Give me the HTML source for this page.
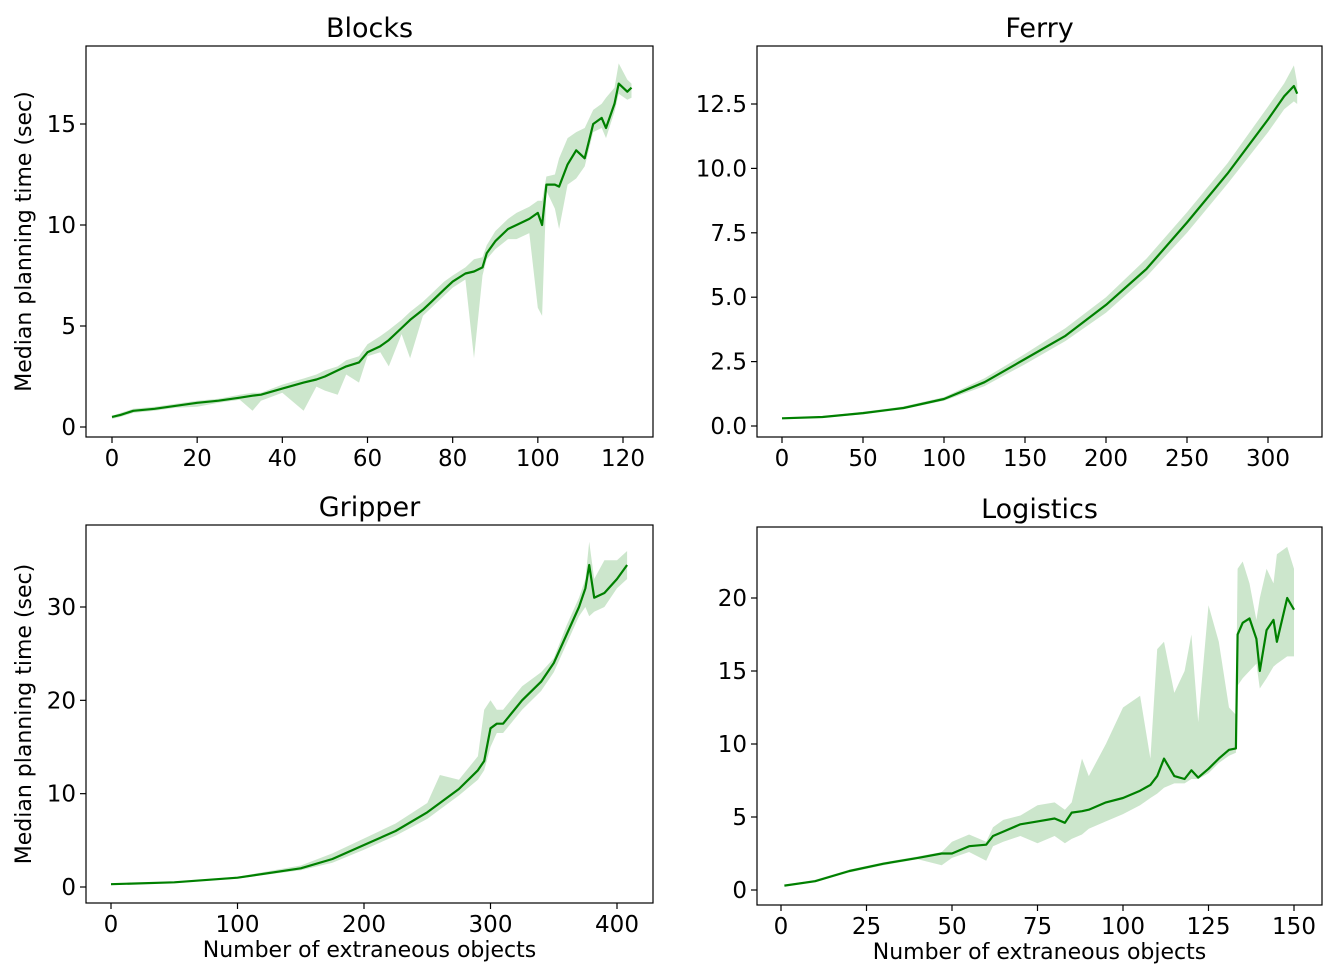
<!DOCTYPE html>
<html><head><meta charset="utf-8">
<style>
body{margin:0;background:#fff;width:1332px;height:972px;overflow:hidden}
svg text{font-family:"DejaVu Sans","Liberation Sans",sans-serif;fill:#000}
</style></head>
<body>
<svg id="fig" width="1332" height="972" viewBox="0 0 1332 972" xmlns="http://www.w3.org/2000/svg"></svg>
<script>
// Blocks
const blocksX=[0,2,5,10,15,20,25,30,33,35,40,45,48,50,53,55,58,60,63,65,68,70,73,75,78,80,83,85,87,88,90,93,95,98,100,101,102,104,105,107,109,111,113,115,116,118,119,121,122];
const blocksMed=[0.5,0.6,0.8,0.9,1.05,1.2,1.3,1.45,1.55,1.6,1.9,2.2,2.35,2.5,2.8,3.0,3.2,3.7,4.0,4.3,4.9,5.3,5.8,6.2,6.8,7.2,7.6,7.7,7.9,8.6,9.2,9.8,10.0,10.3,10.6,10.0,12.0,12.0,11.9,13.0,13.7,13.3,15.0,15.3,14.8,16.0,17.0,16.6,16.8];
const blocksLo=[0.4,0.5,0.7,0.8,0.95,1.0,1.2,1.35,0.8,1.3,1.7,0.8,2.0,1.8,1.6,2.6,2.2,3.5,3.7,3.0,4.6,3.4,5.5,5.9,6.5,6.9,7.3,3.4,7.5,8.3,8.8,9.3,9.3,9.6,5.9,5.5,11.7,10.8,9.8,12.0,12.3,12.9,14.6,14.8,14.3,15.6,16.5,16.2,16.3];
const blocksHi=[0.55,0.7,0.9,1.0,1.15,1.3,1.4,1.6,1.7,1.7,2.1,2.4,2.6,2.8,3.0,3.3,3.5,4.1,4.5,4.8,5.3,5.7,6.2,6.6,7.2,7.5,7.9,8.3,8.4,9.0,9.7,10.3,10.6,10.9,11.2,11.2,12.4,12.5,13.3,14.3,14.6,14.8,15.7,16.0,16.3,16.8,18.0,17.2,17.0];
// Ferry
const ferryX=[0,25,50,75,100,125,150,175,200,225,250,275,300,310,316,318];
const ferryMed=[0.3,0.35,0.5,0.7,1.05,1.7,2.6,3.5,4.7,6.1,7.9,9.8,11.9,12.8,13.2,12.9];
const ferryLo=[0.28,0.32,0.45,0.65,0.98,1.55,2.4,3.3,4.4,5.8,7.5,9.4,11.4,12.3,12.6,12.5];
const ferryHi=[0.32,0.38,0.55,0.76,1.12,1.85,2.8,3.8,5.0,6.5,8.3,10.2,12.4,13.3,14.0,13.3];
// Gripper
const gripX=[0,50,100,150,175,200,225,250,260,275,290,295,300,305,310,325,340,350,360,370,375,378,382,390,400,408];
const gripMed=[0.3,0.5,1.0,2.0,3.0,4.5,6.0,8.0,9.0,10.5,12.5,13.5,17.0,17.5,17.5,20,22,24,27,30,32,34.5,31,31.5,33,34.5];
const gripLo=[0.25,0.45,0.9,1.8,2.6,4.0,5.5,7.3,8.3,9.8,11.5,12.5,15,16.5,16.5,19,21,23,26,29,30,29,29.5,30,32,33];
const gripHi=[0.35,0.55,1.1,2.3,3.6,5.2,6.8,9.0,12,11.5,14,19,20,19,19,21.5,23,24.5,28,31,33,37,33,35,35,36];
// Logistics
const logX=[1,10,20,30,40,47,50,55,60,62,65,70,75,80,83,85,88,90,95,100,105,108,110,112,115,118,120,122,125,128,131,133,133.5,135,137,139,140,142,144,145,148,150];
const logMed=[0.3,0.6,1.3,1.8,2.2,2.5,2.5,3.0,3.1,3.7,4.0,4.5,4.7,4.9,4.6,5.3,5.4,5.5,6.0,6.3,6.8,7.2,7.8,9.0,7.8,7.6,8.2,7.7,8.3,9.0,9.6,9.7,17.5,18.3,18.6,17.2,15.0,17.8,18.5,17.0,20.0,19.2];
const logLo=[0.25,0.55,1.2,1.7,2.1,1.7,2.2,2.6,2.0,3.0,3.3,3.7,3.2,3.7,3.2,3.5,3.8,4.2,4.7,5.2,5.8,6.3,6.6,7.0,7.3,7.3,7.6,7.6,8.0,8.7,9.2,9.4,14,14.5,15,15.5,13.8,14.5,15.3,15.5,16,16];
const logHi=[0.35,0.7,1.4,1.9,2.3,2.6,3.3,3.8,3.3,4.3,4.8,5.1,5.8,6.0,5.5,6.0,9.0,7.8,10.0,12.5,13.3,9.0,16.5,17.0,13.5,15,17.5,11.5,19.5,17.0,12.5,12.0,22,22.5,21,18.5,20,22,21,23,23.5,22];

const panels=[
 {name:'blocks',title:'Blocks',L:86,R:653,T:46,B:437,x0:0,x1:120,px0:112,px1:623,y0:0,y1:15,py0:427,py1:124,
  xt:[0,20,40,60,80,100,120],yt:[0,5,10,15],yf:v=>String(v),X:blocksX,M:blocksMed,Lo:blocksLo,Hi:blocksHi,ylab:true,xlab:false},
 {name:'ferry',title:'Ferry',L:757,R:1322,T:46,B:437,x0:0,x1:300,px0:782,px1:1268,y0:0,y1:12.5,py0:426,py1:104,
  xt:[0,50,100,150,200,250,300],yt:[0,2.5,5,7.5,10,12.5],yf:v=>v.toFixed(1),X:ferryX,M:ferryMed,Lo:ferryLo,Hi:ferryHi,ylab:false,xlab:false},
 {name:'gripper',title:'Gripper',L:86,R:653,T:525,B:903,x0:0,x1:400,px0:111,px1:617,y0:0,y1:30,py0:887,py1:607,
  xt:[0,100,200,300,400],yt:[0,10,20,30],yf:v=>String(v),X:gripX,M:gripMed,Lo:gripLo,Hi:gripHi,ylab:true,xlab:true},
 {name:'logistics',title:'Logistics',L:757,R:1322,T:527,B:905,x0:0,x1:150,px0:781,px1:1294,y0:0,y1:20,py0:890,py1:598,
  xt:[0,25,50,75,100,125,150],yt:[0,5,10,15,20],yf:v=>String(v),X:logX,M:logMed,Lo:logLo,Hi:logHi,ylab:false,xlab:true}
];
const NS='http://www.w3.org/2000/svg';
const fig=document.getElementById('fig');
function mk(t,a,p){const e=document.createElementNS(NS,t);for(const k in a)e.setAttribute(k,a[k]);(p||fig).appendChild(e);return e;}
panels.forEach(p=>{
 const sx=v=>p.px0+(v-p.x0)*(p.px1-p.px0)/(p.x1-p.x0);
 const sy=v=>p.py0+(v-p.y0)*(p.py1-p.py0)/(p.y1-p.y0);
 const g=mk('g',{});
 
 
 let d='';
 p.X.forEach((x,i)=>{d+=(i?'L':'M')+sx(x).toFixed(1)+','+sy(p.Hi[i]).toFixed(1);});
 for(let i=p.X.length-1;i>=0;i--)d+='L'+sx(p.X[i]).toFixed(1)+','+sy(p.Lo[i]).toFixed(1);
 const band=mk('path',{d:d+'Z',fill:'#008000','fill-opacity':0.2,stroke:'none'},g);
 
 
 let ld='';
 p.X.forEach((x,i)=>{ld+=(i?'L':'M')+sx(x).toFixed(1)+','+sy(p.M[i]).toFixed(1);});
 const line=mk('path',{d:ld,fill:'none',stroke:'#008000','stroke-width':2.2,'stroke-linejoin':'round'},g);
 
 
 const fr=mk('rect',{x:p.L,y:p.T,width:p.R-p.L,height:p.B-p.T,fill:'none',stroke:'#000','stroke-width':1.2},g);
 
 
 p.xt.forEach(v=>{
  const x=sx(v);
  mk('line',{x1:x,x2:x,y1:p.B,y2:p.B+6,stroke:'#000','stroke-width':1.2},g);
  const t=mk('text',{x:x,y:p.B+29,'text-anchor':'middle','font-size':23},g);
  t.textContent=String(v);
  
  
 });
 p.yt.forEach(v=>{
  const y=sy(v);
  mk('line',{x1:p.L-6,x2:p.L,y1:y,y2:y,stroke:'#000','stroke-width':1.2},g);
  const t=mk('text',{x:p.L-10,y:y+8,'text-anchor':'end','font-size':23},g);
  t.textContent=p.yf(v);
  
  
 });
 const tt=mk('text',{x:(p.L+p.R)/2,y:p.T-9,'text-anchor':'middle','font-size':27},g);
 tt.textContent=p.title;
 
 
 if(p.ylab){
  const cy=(p.T+p.B)/2;
  const yl=mk('text',{x:31,y:cy,'text-anchor':'middle','font-size':22,transform:'rotate(-90 31 '+cy+')'},g);
  yl.textContent='Median planning time (sec)';
  
  
 }
 if(p.xlab){
  const xl=mk('text',{x:(p.L+p.R)/2,y:p.B+54,'text-anchor':'middle','font-size':22},g);
  xl.textContent='Number of extraneous objects';
  
  
 }
});
</script>
</body></html>
